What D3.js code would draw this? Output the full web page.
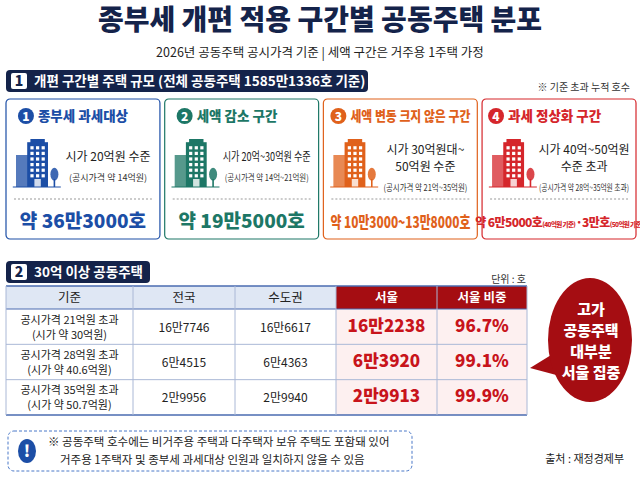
<!DOCTYPE html>
<html><head><meta charset="utf-8">
<script src="https://cdn.jsdelivr.net/npm/d3@7"></script>
<style>body{margin:0;background:#fff}svg{font-family:"Noto Sans CJK KR","Noto Sans",sans-serif}</style>
</head><body><div id="chart"></div>
<script>
// cards (section 1)
var cardTitles = ["종부세 과세대상", "세액 감소 구간", "세액 변동 크지 않은 구간", "과세 정상화 구간"];
var cardPrice = [["시가 20억원 수준"], ["시가 20억~30억원 수준"], ["시가 30억원대~", "50억원 수준"], ["시가 40억~50억원", "수준 초과"]];
var cardNote = ["(공시가격 약 14억원)", "(공시가격 약 14억~21억원)", "(공시가격 약 21억~35억원)", "(공시가격 약 28억~35억원 초과)"];
var cardCount = ["약 36만3000호", "약 19만5000호", "약 10만3000~13만8000호", "약 6만5000호(40억원 기준)·3만호(50억원 기준)"];
var cardColors = ["#1c4ea6", "#1d7766", "#e0611b", "#d5262b"];

// table (section 2)
var headers = ["기준", "전국", "수도권", "서울", "서울 비중"];
var criteria = ["공시가격 21억원 초과", "공시가격 28억원 초과", "공시가격 35억원 초과"];
var marketPrice = ["(시가 약 30억원)", "(시가 약 40.6억원)", "(시가 약 50.7억원)"];
var nationwide = ["16만7746", "6만4515", "2만9956"];
var capital = ["16만6617", "6만4363", "2만9940"];
var seoul = ["16만2238", "6만3920", "2만9913"];
var seoulShare = ["96.7%", "99.1%", "99.9%"];

var navy = "#14234a";
var svg = d3.select("#chart").append("svg").attr("width", 640).attr("height", 480);
svg.append("rect").attr("width", 640).attr("height", 480).attr("fill", "#fff");

svg.append("text").attr("x", 320).attr("y", 30).attr("text-anchor", "middle")
  .attr("font-size", 28).attr("font-weight", 900).attr("fill", navy)
  .text("종부세 개편 적용 구간별 공동주택 분포");
svg.append("text").attr("x", 320).attr("y", 57).attr("text-anchor", "middle")
  .attr("font-size", 12.5).attr("fill", "#222")
  .text("2026년 공동주택 공시가격 기준 | 세액 구간은 거주용 1주택 가정");

function sectionLabel(x, y, w, num, label) {
  svg.append("rect").attr("x", x).attr("y", y).attr("width", w).attr("height", 22).attr("rx", 4).attr("fill", navy);
  svg.append("rect").attr("x", x + 5).attr("y", y + 3).attr("width", 16).attr("height", 16).attr("rx", 2).attr("fill", "#fff");
  svg.append("text").attr("x", x + 13).attr("y", y + 16).attr("text-anchor", "middle").attr("font-size", 14)
    .attr("font-weight", 900).attr("fill", navy).text(num);
  svg.append("text").attr("x", x + 28).attr("y", y + 16).attr("font-size", 13.5)
    .attr("font-weight", 700).attr("fill", "#fff").text(label);
}
sectionLabel(6, 70, 362, "1", "개편 구간별 주택 규모 (전체 공동주택 1585만1336호 기준)");
svg.append("text").attr("x", 630).attr("y", 91).attr("text-anchor", "end").attr("font-size", 10)
  .attr("fill", "#333").text("※ 기준 초과 누적 호수");

var cx = d3.scaleBand().domain(d3.range(4)).range([6, 636]).paddingInner(0.03);
var cards = svg.selectAll("g.card").data(cardTitles).join("g").attr("class", "card")
  .attr("transform", function (d, i) { return "translate(" + cx(i) + ",99)"; });
var cw = cx.bandwidth();
cards.append("rect").attr("width", cw).attr("height", 140).attr("rx", 4).attr("fill", "#fff")
  .attr("stroke", function (d, i) { return cardColors[i]; }).attr("stroke-width", 1.2);
cards.each(function (d, i) {
  var g = d3.select(this), c = cardColors[i];
  var tw = i === 2 ? cw - 30 : d.length * 12 + 18, tx = cw / 2 - tw / 2;
  g.append("circle").attr("cx", tx).attr("cy", 17).attr("r", 8).attr("fill", c);
  g.append("text").attr("x", tx).attr("y", 21.5).attr("text-anchor", "middle").attr("font-size", 12)
    .attr("font-weight", 900).attr("fill", "#fff").text(i + 1);
  g.append("text").attr("x", tx + 12).attr("y", 22).attr("font-size", 13.5).attr("font-weight", 800)
    .attr("fill", c).attr("textLength", i === 2 ? tw - 4 : null).attr("lengthAdjust", "spacingAndGlyphs").text(d);
  // building icon
  var b = g.append("g").attr("transform", "translate(10,40) scale(0.8)");
  b.append("rect").attr("x", 0).attr("y", 20).attr("width", 18).attr("height", 40).attr("fill", c).attr("opacity", 0.75);
  b.append("rect").attr("x", 14).attr("y", 4).attr("width", 26).attr("height", 56).attr("fill", c);
  b.append("rect").attr("x", 18).attr("y", 0).attr("width", 18).attr("height", 5).attr("fill", c);
  for (var r = 0; r < 6; r++) for (var k = 0; k < 3; k++)
    b.append("rect").attr("x", 18 + k * 7).attr("y", 9 + r * 7).attr("width", 4).attr("height", 4).attr("fill", "#fff");
  b.append("rect").attr("x", 23).attr("y", 50).attr("width", 8).attr("height", 10).attr("fill", "#fff").attr("opacity", 0.8);
  b.append("line").attr("x1", 48).attr("x2", 48).attr("y1", 50).attr("y2", 60).attr("stroke", c).attr("stroke-width", 2);
  b.append("ellipse").attr("cx", 48).attr("cy", 44).attr("rx", 5).attr("ry", 8).attr("fill", c).attr("opacity", 0.85);
  b.append("line").attr("x1", -4).attr("x2", 56).attr("y1", 60).attr("y2", 60).attr("stroke", c).attr("stroke-width", 1.5);
  var lines = cardPrice[i], px = 102, py = lines.length === 1 ? 62 : 55;
  lines.forEach(function (t, j) {
    g.append("text").attr("x", px).attr("y", py + j * 17).attr("text-anchor", "middle").attr("font-size", 12)
      .attr("fill", "#222").attr("textLength", t.length > 12 ? 88 : null).attr("lengthAdjust", "spacingAndGlyphs").text(t);
  });
  g.append("text").attr("x", px).attr("y", py + lines.length * 17 + 3).attr("text-anchor", "middle")
    .attr("font-size", 9).attr("fill", "#333").attr("textLength", i === 3 ? 90 : (i === 0 ? null : 84))
    .attr("lengthAdjust", "spacingAndGlyphs").text(cardNote[i]);
  g.append("line").attr("x1", 8).attr("x2", cw - 8).attr("y1", 100).attr("y2", 100)
    .attr("stroke", "#999").attr("stroke-dasharray", "2,2");
  var cnt = cardCount[i];
  if (i === 3) {
    var t = g.append("text").attr("x", cw / 2).attr("y", 128).attr("text-anchor", "middle")
      .attr("font-weight", 800).attr("fill", c).attr("letter-spacing", -0.6);
    t.append("tspan").attr("font-size", 12).text("약 6만5000호");
    t.append("tspan").attr("font-size", 6.5).text("(40억원 기준)");
    t.append("tspan").attr("font-size", 12).text("·3만호");
    t.append("tspan").attr("font-size", 6.5).text("(50억원 기준)");
  } else {
    g.append("text").attr("x", cw / 2).attr("y", 129).attr("text-anchor", "middle")
      .attr("font-size", i === 2 ? 16 : 19).attr("font-weight", 800).attr("fill", c)
      .attr("textLength", i === 2 ? cw - 14 : null).attr("lengthAdjust", "spacingAndGlyphs").text(cnt);
  }
});

// section 2 table
sectionLabel(6, 261, 144, "2", "30억 이상 공동주택");
svg.append("text").attr("x", 526).attr("y", 283).attr("text-anchor", "end").attr("font-size", 10)
  .attr("fill", "#333").text("단위 : 호");

var colEdges = [6, 133, 235, 336, 437, 527];
var ty = d3.scaleBand().domain(d3.range(3)).range([309, 415]);
var headH = 23, tableTop = 286;
var red = "#a50d12";
headers.forEach(function (h, j) {
  svg.append("rect").attr("x", colEdges[j]).attr("y", tableTop).attr("width", colEdges[j + 1] - colEdges[j]).attr("height", headH)
    .attr("fill", j >= 3 ? red : "#dfe7f4");
  svg.append("text").attr("x", (colEdges[j] + colEdges[j + 1]) / 2).attr("y", tableTop + 16).attr("text-anchor", "middle")
    .attr("font-size", 12.5).attr("font-weight", j >= 3 ? 700 : 400).attr("fill", j >= 3 ? "#fff" : "#222").text(h);
});
svg.append("rect").attr("x", 336).attr("y", 309).attr("width", 191).attr("height", 106).attr("fill", "#fdf0f0");
var cols = [nationwide, capital, seoul, seoulShare];
criteria.forEach(function (c, i) {
  var y0 = ty(i), mid = y0 + ty.bandwidth() / 2;
  svg.append("text").attr("x", 69.5).attr("y", mid - 3).attr("text-anchor", "middle").attr("font-size", 11).attr("fill", "#222").text(c);
  svg.append("text").attr("x", 69.5).attr("y", mid + 12).attr("text-anchor", "middle").attr("font-size", 11).attr("fill", "#222").text(marketPrice[i]);
  cols.forEach(function (arr, j) {
    svg.append("text").attr("x", (colEdges[j + 1] + colEdges[j + 2]) / 2).attr("y", mid + 5).attr("text-anchor", "middle")
      .attr("font-size", j >= 2 ? 17 : 12).attr("font-weight", j >= 2 ? 800 : 400)
      .attr("fill", j >= 2 ? "#c8141b" : "#222").text(arr[i]);
  });
});
// grid lines
[tableTop, 309, ty(1), ty(2), 415].forEach(function (y, k) {
  svg.append("line").attr("x1", 6).attr("x2", 527).attr("y1", y).attr("y2", y)
    .attr("stroke", (k === 0 || k === 1 || k === 4) ? "#4a6bb0" : "#aab8d6").attr("stroke-width", k === 0 || k === 4 ? 1.5 : 1);
});
colEdges.forEach(function (x) {
  svg.append("line").attr("x1", x).attr("x2", x).attr("y1", tableTop).attr("y2", 415).attr("stroke", "#aab8d6");
});

// callout
svg.append("path").attr("d", "M530,368 L556,352 L560,376 Z").attr("fill", red);
svg.append("ellipse").attr("cx", 590).attr("cy", 340).attr("rx", 42).attr("ry", 62).attr("fill", red);
["고가", "공동주택", "대부분", "서울 집중"].forEach(function (t, i) {
  svg.append("text").attr("x", 591).attr("y", 315 + i * 21).attr("text-anchor", "middle").attr("font-size", 15)
    .attr("font-weight", 800).attr("fill", "#fff").text(t);
});

// note
svg.append("rect").attr("x", 8).attr("y", 431).attr("width", 404).attr("height", 40).attr("rx", 6)
  .attr("fill", "#fff").attr("stroke", "#4a78c8").attr("stroke-dasharray", "3,2");
svg.append("ellipse").attr("cx", 27).attr("cy", 451).attr("rx", 9).attr("ry", 12).attr("fill", "#1c4ea6");
svg.append("text").attr("x", 27).attr("y", 457).attr("text-anchor", "middle").attr("font-size", 16)
  .attr("font-weight", 900).attr("fill", "#fff").text("!");
svg.append("text").attr("x", 48).attr("y", 446).attr("font-size", 11.5).attr("fill", "#222")
  .text("※ 공동주택 호수에는 비거주용 주택과 다주택자 보유 주택도 포함돼 있어");
svg.append("text").attr("x", 60).attr("y", 464).attr("font-size", 11.5).attr("fill", "#222")
  .text("거주용 1주택자 및 종부세 과세대상 인원과 일치하지 않을 수 있음");
svg.append("text").attr("x", 624).attr("y", 463).attr("text-anchor", "end").attr("font-size", 11).attr("fill", "#222")
  .text("출처 : 재정경제부");
</script></body></html>
